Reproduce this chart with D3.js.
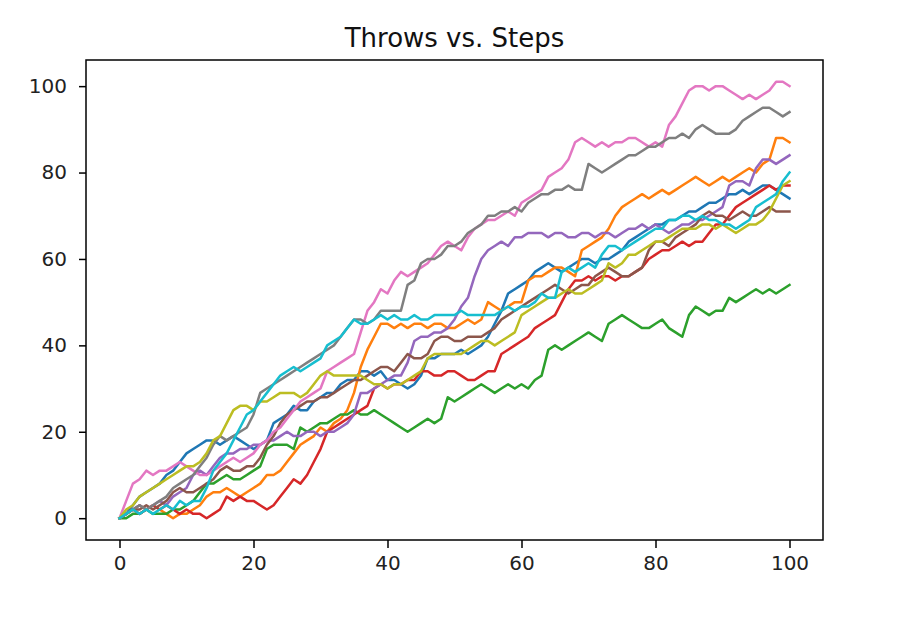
<!DOCTYPE html>
<html><head><meta charset="utf-8">
<script src="https://cdn.jsdelivr.net/npm/d3@7"></script>
<style>body{margin:0;background:#fff;} svg{display:block;}</style>
</head><body>
<svg id="chart" width="900" height="632"></svg>
<script>
const title = "Throws vs. Steps";
const xTicks = [0, 20, 40, 60, 80, 100];
const yTicks = [0, 20, 40, 60, 80, 100];
const colors = ["#1f77b4","#ff7f0e","#2ca02c","#d62728","#9467bd","#8c564b","#e377c2","#7f7f7f","#bcbd22","#17becf"];

const blue = [0,1,3,5,6,7,8,10,11,13,15,16,17,18,18,17,18,19,18,17,16,17,18,22,23,24,26,25,25,27,28,29,29,31,32,32,34,34,33,34,32,32,31,30,31,33,37,37,38,38,38,39,38,39,40,42,45,48,52,53,54,55,57,58,59,58,57,58,59,60,60,59,60,60,61,62,64,65,66,67,68,68,69,69,70,71,71,72,73,73,74,75,75,76,75,76,77,77,76,75,74];
const orange = [0,1,2,3,2,3,2,1,0,1,1,2,3,5,6,6,7,6,5,6,7,8,10,10,11,13,15,17,18,19,21,20,22,23,25,29,35,39,42,45,45,44,45,44,45,45,44,45,45,44,44,45,46,45,46,50,49,48,49,50,50,55,56,56,57,58,58,57,56,62,63,64,65,67,70,72,73,74,75,74,75,76,75,76,77,78,79,78,77,78,79,78,79,80,81,80,82,83,88,88,87];
const green = [0,0,1,1,2,1,1,1,2,2,3,4,6,8,8,9,10,9,9,10,11,12,16,17,17,17,16,21,20,21,22,22,23,24,24,25,24,24,25,24,23,22,21,20,21,22,23,22,23,28,27,28,29,30,31,30,29,30,31,30,31,30,32,33,39,40,39,40,41,42,43,42,41,45,46,47,46,45,44,44,45,46,44,43,42,47,49,48,47,48,48,51,50,51,52,53,52,53,52,53,54];
const red = [0,1,2,1,2,3,2,3,2,1,2,1,1,0,1,2,5,4,5,4,4,3,2,3,5,7,9,8,10,13,16,20,21,22,23,24,25,26,30,31,30,31,31,32,32,34,34,33,33,34,34,33,32,32,33,34,34,38,39,40,41,42,44,45,46,47,50,53,55,55,56,55,56,56,55,56,56,57,58,60,61,62,62,63,64,63,64,64,66,68,68,70,72,73,74,75,76,77,76,77,77];
const purple = [0,1,2,3,2,3,4,3,5,6,7,10,11,10,12,14,15,15,16,16,17,17,18,18,19,20,19,19,20,20,19,20,20,21,22,24,29,29,30,31,32,33,33,36,41,42,42,43,43,44,46,49,51,56,60,62,63,64,63,65,65,66,66,66,65,66,66,65,65,66,66,65,66,66,65,66,67,67,68,67,68,67,66,67,68,68,69,69,70,71,72,77,78,78,77,81,83,83,82,83,84];
const brown = [0,1,2,2,3,2,3,4,6,7,6,6,7,8,9,11,12,11,11,12,12,14,17,19,22,24,25,26,27,27,28,28,29,30,31,32,32,33,34,35,35,34,36,38,37,37,38,41,42,42,41,41,42,42,42,43,44,46,47,48,49,50,51,52,53,54,53,52,53,54,54,56,57,58,57,56,56,57,58,62,64,64,63,65,66,67,68,70,71,70,70,69,70,71,70,70,71,72,71,71,71];
const pink = [0,4,8,9,11,10,11,11,12,13,12,11,10,10,11,12,13,14,13,14,15,17,18,20,21,23,25,27,28,29,30,34,35,36,37,38,43,48,50,53,52,55,57,56,57,58,59,61,63,64,63,62,65,67,68,69,69,70,71,70,73,74,75,76,79,80,81,83,87,88,87,86,87,86,87,87,88,88,87,86,87,86,91,93,96,99,100,100,99,100,100,99,98,97,98,97,98,99,101,101,100];
const gray = [0,1,2,3,2,3,4,5,7,8,9,10,12,14,17,19,18,19,20,21,24,29,30,31,32,33,34,35,36,37,38,39,40,42,44,46,46,45,46,48,48,48,48,54,55,59,60,60,61,63,63,64,66,67,68,70,70,71,71,72,71,73,74,75,75,76,76,77,76,76,82,81,80,81,82,83,84,84,85,86,86,87,88,88,89,88,90,91,90,89,89,89,90,92,93,94,95,95,94,93,94];
const olive = [0,2,3,5,6,7,8,9,10,11,12,12,13,15,18,19,22,25,26,26,25,27,27,28,29,29,29,28,29,31,33,34,33,33,33,33,33,32,31,31,30,31,31,32,33,34,37,38,38,38,38,38,39,40,41,41,40,41,42,43,47,48,49,50,51,51,52,53,52,52,53,54,55,59,58,59,61,61,62,63,64,64,65,66,67,67,67,68,68,67,68,67,66,67,68,68,69,71,74,77,78];
const cyan = [0,1,2,1,2,1,2,3,2,4,3,4,4,7,11,13,15,18,21,24,25,27,29,31,33,34,35,34,35,36,37,40,41,42,44,46,45,45,46,47,46,47,46,46,47,46,46,47,47,47,47,48,47,47,47,47,47,48,49,48,49,49,50,52,51,51,57,58,57,58,59,58,61,63,63,62,63,64,65,66,67,67,69,69,70,70,69,70,69,69,68,68,67,68,69,72,73,74,75,78,80];

const seriesList = [blue, orange, green, red, purple, brown, pink, gray, olive, cyan];

const svg = d3.select("#chart");
const L = 86, R = 823, T = 60, B = 540;
const allVals = seriesList.flat();
const vmin = d3.min(allVals), vmax = d3.max(allVals);
const xpad = 0.05 * 100, ypad = 0.05 * (vmax - vmin);
const x = d3.scaleLinear().domain([0 - xpad, 100 + xpad]).range([L, R]);
const y = d3.scaleLinear().domain([vmin - ypad, vmax + ypad]).range([B, T]);

const line = d3.line().x((d, i) => x(i)).y(d => y(d));
const g = svg.append("g");
seriesList.forEach((s, k) => {
  g.append("path").datum(s)
    .attr("d", line)
    .attr("fill", "none")
    .attr("stroke", colors[k])
    .attr("stroke-width", 2.5)
    .attr("stroke-linejoin", "round")
    .attr("stroke-linecap", "square");
});

const font = "DejaVu Sans, sans-serif";
const xAxis = d3.axisBottom(x).tickValues(xTicks).tickSize(8).tickPadding(8).tickFormat(d3.format("d"));
const yAxis = d3.axisLeft(y).tickValues(yTicks).tickSize(7).tickPadding(12).tickFormat(d3.format("d"));
const gx = svg.append("g").attr("transform", `translate(0,${B})`).call(xAxis);
const gy = svg.append("g").attr("transform", `translate(${L},0)`).call(yAxis);
[gx, gy].forEach(a => {
  a.select(".domain").remove();
  a.selectAll(".tick line").attr("stroke", "#000").attr("stroke-width", 1.5);
  a.selectAll(".tick text").attr("fill", "#222").style("font-family", font).style("font-size", "20px");
});

svg.append("rect").attr("x", L).attr("y", T).attr("width", R - L).attr("height", B - T)
  .attr("fill", "none").attr("stroke", "#000").attr("stroke-width", 1.5);

svg.append("text").attr("x", (L + R) / 2).attr("y", 47)
  .attr("text-anchor", "middle").style("font-family", font).style("font-size", "26px")
  .attr("fill", "#111").text(title);
</script>
</body></html>
